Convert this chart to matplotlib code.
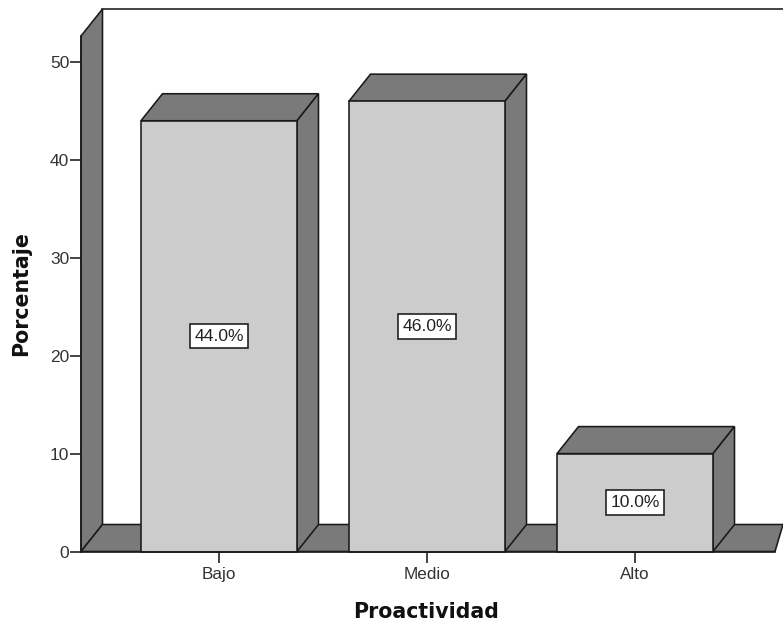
import matplotlib
matplotlib.use("Agg")
import matplotlib.pyplot as plt
from matplotlib.patches import Polygon, Rectangle

categories = ["Bajo", "Medio", "Alto"]
values = [44.0, 46.0, 10.0]
yticks = [0, 10, 20, 30, 40, 50]

W, H = 783, 630
plt.rcParams["font.family"] = ["Liberation Sans", "DejaVu Sans"]
fig = plt.figure(figsize=(W / 100, H / 100), dpi=100)

# axes frame in pixels
L, R, T, B = 81, 783, 9, 551.5
ax = fig.add_axes([L / W, 1 - B / H, (R - L) / W, (B - T) / H])
pxu_x = 208.0
pxu_y = 9.79
ax.set_xlim((L - 219) / pxu_x, (R - 219) / pxu_x)
ax.set_ylim(0, (B - T) / pxu_y)
dx = 21.5 / pxu_x
dy = 27.0 / pxu_y
bw = 0.75
wall_top = ax.get_ylim()[1] - dy

EDGE = "#1a1a1a"
SIDE = "#7a7a7a"
FACE = "#cccccc"
LW = 1.15
x0, x1 = ax.get_xlim()
kw = dict(edgecolor=EDGE, linewidth=LW, joinstyle="miter", clip_on=False)

# left wall and floor
ax.add_patch(Polygon([(x0, 0), (x0 + dx, dy), (x0 + dx, wall_top + dy), (x0, wall_top)],
                     facecolor=SIDE, zorder=1, **kw))
floor_end = (775 - 219) / pxu_x
ax.add_patch(Polygon([(x0, 0), (floor_end, 0), (x1, dy), (x0 + dx, dy)],
                     facecolor=SIDE, zorder=1, **kw))
ax.plot([x0 + dx, x1], [wall_top + dy] * 2, color=EDGE, lw=LW, zorder=1, clip_on=False)

# bars
for i, v in enumerate(values):
    l, r = i - bw / 2, i + bw / 2
    ax.add_patch(Polygon([(l, v), (l + dx, v + dy), (r + dx, v + dy), (r, v)],
                         facecolor=SIDE, zorder=3, **kw))
    ax.add_patch(Polygon([(r, 0), (r + dx, dy), (r + dx, v + dy), (r, v)],
                         facecolor=SIDE, zorder=3, **kw))
    ax.add_patch(Rectangle((l, 0), bw, v, facecolor=FACE, zorder=4, **kw))
    ax.text(i, v / 2, f"{v:.1f}%", ha="center", va="center", fontsize=12.6, color="#222222",
            zorder=5, bbox=dict(boxstyle="square,pad=0.27", facecolor="white",
                                edgecolor=EDGE, linewidth=LW))

# axes furniture
for s in ("top", "right"):
    ax.spines[s].set_visible(False)
ax.spines["left"].set_bounds(0, wall_top)
ax.spines["bottom"].set_bounds(x0, floor_end)
for s in ("left", "bottom"):
    ax.spines[s].set_linewidth(LW)
    ax.spines[s].set_color(EDGE)
    ax.spines[s].set_zorder(6)
ax.set_yticks(yticks)
ax.set_xticks(range(len(categories)), categories)
ax.tick_params(axis="y", length=8, width=LW, color=EDGE, labelsize=12.5, pad=0.5, labelcolor="#333333")
ax.tick_params(axis="x", length=8, width=LW, color=EDGE, labelsize=12.3, pad=3.5, labelcolor="#333333")
ax.patch.set_alpha(0)

fig.text(426.5 / W, 1 - 612.5 / H, "Proactividad", ha="center", va="center",
         fontsize=14.8, fontweight="bold", color="#111111", family="DejaVu Sans")
fig.text(21.5 / W, 1 - 293.5 / H, "Porcentaje", ha="center", va="center", rotation=90,
         fontsize=14.8, fontweight="bold", color="#111111", family="DejaVu Sans")

fig.savefig("out.png", dpi=100)
